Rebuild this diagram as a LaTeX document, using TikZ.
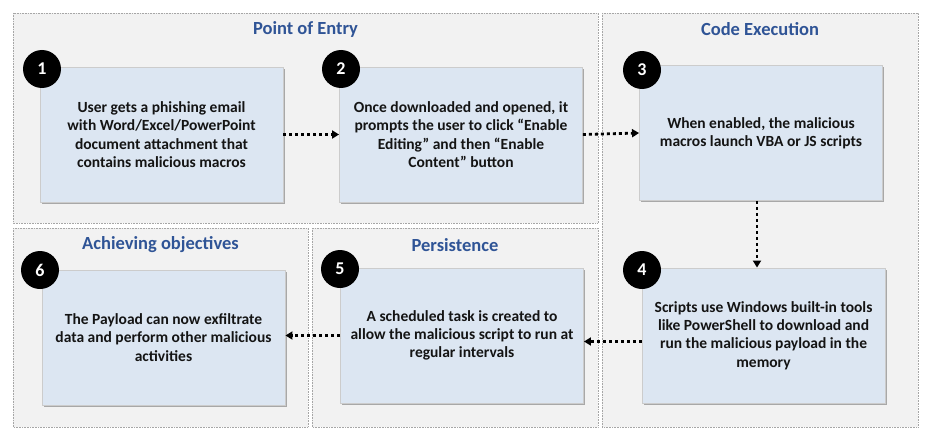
\documentclass[tikz,border=0pt]{standalone}
\usepackage{fontspec}
\setmainfont{Carlito}
\usetikzlibrary{shadows,arrows.meta}
\definecolor{titleblue}{RGB}{47,84,150}
\definecolor{boxfill}{RGB}{220,230,242}
\definecolor{panelfill}{RGB}{242,242,242}
\definecolor{textdark}{RGB}{20,20,20}
\begin{document}
\begin{tikzpicture}[x=1pt,y=-1pt,
  panel/.style={fill=panelfill, draw=black!35, densely dotted, line width=0.6pt},
  paneltitle/.style={text=titleblue, font=\bfseries\fontsize{18.5}{21}\selectfont, inner sep=0pt},
  stepbox/.style={fill=boxfill, draw=black!20, line width=0.9pt,
    minimum width=243pt, minimum height=135pt, inner sep=0pt,
    align=center, text=textdark, font=\bfseries\fontsize{15.5}{18.3}\selectfont,
    drop shadow={shadow xshift=1.6pt, shadow yshift=-1.6pt, opacity=0.3, fill=black}},
  numcirc/.style={circle, fill=black, minimum size=38pt, inner sep=0pt,
    text=white, font=\bfseries\fontsize{18}{20}\selectfont},
  flow/.style={line width=2.8pt, dash pattern=on 3pt off 3pt,
    -{Triangle[length=7pt,width=8pt]}}
]
\useasboundingbox (0,0) rectangle (936,436);
\fill[white] (0,0) rectangle (936,436);

% panels
\draw[panel] (13,13) rectangle (598,223);
\draw[panel] (602,13) rectangle (918,427);
\draw[panel] (13,228) rectangle (308,427);
\draw[panel] (312,228) rectangle (598,427);

% titles
\node[paneltitle] (t1) at (305.5,29) {Point of Entry};
\node[paneltitle] (t2) at (760,29) {Code Execution};
\node[paneltitle] (t3) at (160.5,245) {Achieving objectives};
\node[paneltitle] (t4) at (455,245) {Persistence};

% step boxes
\node[stepbox] (b1) at (161.5,134.5) {User gets a phishing email\\with Word/Excel/PowerPoint\\document attachment that\\contains malicious macros};
\node[stepbox] (b2) at (461,134.5) {Once downloaded and opened, it\\prompts the user to click “Enable\\Editing” and then “Enable\\Content” button};
\node[stepbox] (b3) at (761,133) {When enabled, the malicious\\macros launch VBA or JS scripts};
\node[stepbox] (b4) at (763.5,335.5) {Scripts use Windows built-in tools\\like PowerShell to download and\\run the malicious payload in the\\memory};
\node[stepbox] (b5) at (462,335.5) {A scheduled task is created to\\allow the malicious script to run at\\regular intervals};
\node[stepbox] (b6) at (163.5,337.5) {The Payload can now exfiltrate\\data and perform other malicious\\activities};

% number circles
\node[numcirc] (c1) at (42,69) {1};
\node[numcirc] (c2) at (341,69) {2};
\node[numcirc] (c3) at (642,70) {3};
\node[numcirc] (c4) at (642,270) {4};
\node[numcirc] (c5) at (340,269) {5};
\node[numcirc] (c6) at (40,270) {6};

% connectors
\draw[flow] (b1.east) -- (b2.west);
\draw[flow] (b2.east) -- (b3.west);
\draw[flow] ([xshift=-4pt]b3.south) -- ([xshift=-4pt]b3.south |- b4.north);
\draw[flow] ([yshift=-6pt]b4.west) -- ([yshift=-6pt]b4.west -| b5.east);
\draw[flow] (b5.west) -- (b5.west -| b6.east);
\end{tikzpicture}
\end{document}
